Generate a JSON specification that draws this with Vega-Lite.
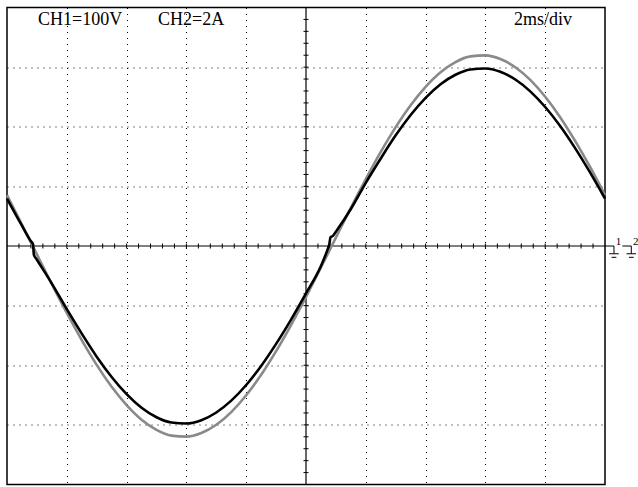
{
  "$schema": "https://vega.github.io/schema/vega-lite/v6.json",
  "width": 598,
  "height": 477,
  "autosize": {"type": "none"},
  "padding": {"left": 7, "top": 7.5, "right": 33, "bottom": 2.5},
  "background": "white",
  "config": {"view": {"stroke": "#000000", "strokeWidth": 1.5}},
  "datasets": {
    "traces": [
      {"t": 0, "v": 0.854, "ch": "CH1"}, {"t": 0.25, "v": 0.361, "ch": "CH1"}, {"t": 0.5, "v": -0.141, "ch": "CH1"}, {"t": 0.75, "v": -0.639, "ch": "CH1"},
      {"t": 1.0, "v": -1.122, "ch": "CH1"}, {"t": 1.25, "v": -1.577, "ch": "CH1"}, {"t": 1.5, "v": -1.993, "ch": "CH1"}, {"t": 1.75, "v": -2.36, "ch": "CH1"},
      {"t": 2.0, "v": -2.668, "ch": "CH1"}, {"t": 2.25, "v": -2.913, "ch": "CH1"}, {"t": 2.5, "v": -3.084, "ch": "CH1"}, {"t": 2.75, "v": -3.18, "ch": "CH1"},
      {"t": 3.0, "v": -3.197, "ch": "CH1"}, {"t": 3.25, "v": -3.136, "ch": "CH1"}, {"t": 3.5, "v": -2.998, "ch": "CH1"}, {"t": 3.75, "v": -2.785, "ch": "CH1"},
      {"t": 4.0, "v": -2.503, "ch": "CH1"}, {"t": 4.25, "v": -2.161, "ch": "CH1"}, {"t": 4.5, "v": -1.763, "ch": "CH1"}, {"t": 4.75, "v": -1.325, "ch": "CH1"},
      {"t": 5.0, "v": -0.854, "ch": "CH1"}, {"t": 5.25, "v": -0.361, "ch": "CH1"}, {"t": 5.5, "v": 0.141, "ch": "CH1"}, {"t": 5.75, "v": 0.639, "ch": "CH1"},
      {"t": 6.0, "v": 1.122, "ch": "CH1"}, {"t": 6.25, "v": 1.577, "ch": "CH1"}, {"t": 6.5, "v": 1.993, "ch": "CH1"}, {"t": 6.75, "v": 2.36, "ch": "CH1"},
      {"t": 7.0, "v": 2.668, "ch": "CH1"}, {"t": 7.25, "v": 2.913, "ch": "CH1"}, {"t": 7.5, "v": 3.084, "ch": "CH1"}, {"t": 7.75, "v": 3.18, "ch": "CH1"},
      {"t": 8.0, "v": 3.197, "ch": "CH1"}, {"t": 8.25, "v": 3.136, "ch": "CH1"}, {"t": 8.5, "v": 2.998, "ch": "CH1"}, {"t": 8.75, "v": 2.785, "ch": "CH1"},
      {"t": 9.0, "v": 2.503, "ch": "CH1"}, {"t": 9.25, "v": 2.161, "ch": "CH1"}, {"t": 9.5, "v": 1.763, "ch": "CH1"}, {"t": 9.75, "v": 1.325, "ch": "CH1"},
      {"t": 10.0, "v": 0.854, "ch": "CH1"},
      {"t": 0, "v": 0.795, "ch": "CH2"}, {"t": 0.25, "v": 0.34, "ch": "CH2"}, {"t": 0.4, "v": 0.08, "ch": "CH2"}, {"t": 0.435, "v": 0.03, "ch": "CH2"},
      {"t": 0.45, "v": -0.15, "ch": "CH2"}, {"t": 0.5, "v": -0.23, "ch": "CH2"}, {"t": 0.75, "v": -0.63, "ch": "CH2"},
      {"t": 1.0, "v": -1.06, "ch": "CH2"}, {"t": 1.25, "v": -1.47, "ch": "CH2"}, {"t": 1.5, "v": -1.856, "ch": "CH2"}, {"t": 1.75, "v": -2.197, "ch": "CH2"},
      {"t": 2.0, "v": -2.485, "ch": "CH2"}, {"t": 2.25, "v": -2.713, "ch": "CH2"}, {"t": 2.5, "v": -2.872, "ch": "CH2"}, {"t": 2.75, "v": -2.961, "ch": "CH2"},
      {"t": 3.0, "v": -2.977, "ch": "CH2"}, {"t": 3.25, "v": -2.921, "ch": "CH2"}, {"t": 3.5, "v": -2.792, "ch": "CH2"}, {"t": 3.75, "v": -2.594, "ch": "CH2"},
      {"t": 4.0, "v": -2.331, "ch": "CH2"}, {"t": 4.25, "v": -2.012, "ch": "CH2"}, {"t": 4.5, "v": -1.642, "ch": "CH2"}, {"t": 4.75, "v": -1.234, "ch": "CH2"},
      {"t": 5.0, "v": -0.795, "ch": "CH2"}, {"t": 5.25, "v": -0.336, "ch": "CH2"}, {"t": 5.36, "v": -0.06, "ch": "CH2"}, {"t": 5.39, "v": 0.03, "ch": "CH2"},
      {"t": 5.41, "v": 0.15, "ch": "CH2"}, {"t": 5.45, "v": 0.17, "ch": "CH2"}, {"t": 5.5, "v": 0.24, "ch": "CH2"}, {"t": 5.75, "v": 0.62, "ch": "CH2"},
      {"t": 6.0, "v": 1.06, "ch": "CH2"}, {"t": 6.25, "v": 1.468, "ch": "CH2"}, {"t": 6.5, "v": 1.856, "ch": "CH2"}, {"t": 6.75, "v": 2.197, "ch": "CH2"},
      {"t": 7.0, "v": 2.485, "ch": "CH2"}, {"t": 7.25, "v": 2.713, "ch": "CH2"}, {"t": 7.5, "v": 2.872, "ch": "CH2"}, {"t": 7.75, "v": 2.961, "ch": "CH2"},
      {"t": 8.0, "v": 2.977, "ch": "CH2"}, {"t": 8.25, "v": 2.921, "ch": "CH2"}, {"t": 8.5, "v": 2.792, "ch": "CH2"}, {"t": 8.75, "v": 2.594, "ch": "CH2"},
      {"t": 9.0, "v": 2.331, "ch": "CH2"}, {"t": 9.25, "v": 2.012, "ch": "CH2"}, {"t": 9.5, "v": 1.642, "ch": "CH2"}, {"t": 9.75, "v": 1.234, "ch": "CH2"},
      {"t": 10.0, "v": 0.795, "ch": "CH2"}
    ],
    "xticks": [
      {"t": 0.2}, {"t": 0.4}, {"t": 0.6}, {"t": 0.8}, {"t": 1.0}, {"t": 1.2}, {"t": 1.4}, {"t": 1.6}, {"t": 1.8}, {"t": 2.0},
      {"t": 2.2}, {"t": 2.4}, {"t": 2.6}, {"t": 2.8}, {"t": 3.0}, {"t": 3.2}, {"t": 3.4}, {"t": 3.6}, {"t": 3.8}, {"t": 4.0},
      {"t": 4.2}, {"t": 4.4}, {"t": 4.6}, {"t": 4.8}, {"t": 5.2}, {"t": 5.4}, {"t": 5.6}, {"t": 5.8}, {"t": 6.0},
      {"t": 6.2}, {"t": 6.4}, {"t": 6.6}, {"t": 6.8}, {"t": 7.0}, {"t": 7.2}, {"t": 7.4}, {"t": 7.6}, {"t": 7.8}, {"t": 8.0},
      {"t": 8.2}, {"t": 8.4}, {"t": 8.6}, {"t": 8.8}, {"t": 9.0}, {"t": 9.2}, {"t": 9.4}, {"t": 9.6}, {"t": 9.8}
    ],
    "yticks": [
      {"v": -3.8}, {"v": -3.6}, {"v": -3.4}, {"v": -3.2}, {"v": -3.0}, {"v": -2.8}, {"v": -2.6}, {"v": -2.4}, {"v": -2.2}, {"v": -2.0},
      {"v": -1.8}, {"v": -1.6}, {"v": -1.4}, {"v": -1.2}, {"v": -1.0}, {"v": -0.8}, {"v": -0.6}, {"v": -0.4}, {"v": -0.2},
      {"v": 0.2}, {"v": 0.4}, {"v": 0.6}, {"v": 0.8}, {"v": 1.0}, {"v": 1.2}, {"v": 1.4}, {"v": 1.6}, {"v": 1.8}, {"v": 2.0},
      {"v": 2.2}, {"v": 2.4}, {"v": 2.6}, {"v": 2.8}, {"v": 3.0}, {"v": 3.2}, {"v": 3.4}, {"v": 3.6}, {"v": 3.8}
    ],
    "labels": [
      {"t": 0.52, "v": 3.7, "text": "CH1=100V"},
      {"t": 2.525, "v": 3.7, "text": "CH2=2A"},
      {"t": 8.48, "v": 3.7, "text": "2ms/div"}
    ],
    "gnd": [
      {"t": 10.0, "t2": 10.15, "v": 0.0, "v2": 0.0},
      {"t": 10.15, "t2": 10.15, "v": 0.0, "v2": -0.13},
      {"t": 10.07, "t2": 10.23, "v": -0.13, "v2": -0.13},
      {"t": 10.11, "t2": 10.19, "v": -0.19, "v2": -0.19},
      {"t": 10.29, "t2": 10.44, "v": 0.0, "v2": 0.0},
      {"t": 10.44, "t2": 10.44, "v": 0.0, "v2": -0.13},
      {"t": 10.36, "t2": 10.52, "v": -0.13, "v2": -0.13},
      {"t": 10.40, "t2": 10.48, "v": -0.19, "v2": -0.19}
    ],
    "gndlabels": [
      {"t": 10.18, "v": 0.02, "text": "1"},
      {"t": 10.47, "v": 0.02, "text": "2"}
    ]
  },
  "layer": [
    {
      "data": {"name": "labels"},
      "mark": {"type": "text", "font": "Liberation Serif", "fontSize": 18, "align": "left", "baseline": "alphabetic", "color": "#000000"},
      "encoding": {
        "x": {"field": "t", "type": "quantitative", "scale": {"domain": [0, 10], "nice": false, "zero": false},
          "axis": {"values": [1, 2, 3, 4, 6, 7, 8, 9], "grid": true, "gridDash": [1, 5], "gridColor": "#000000", "gridWidth": 1, "gridOpacity": 1, "domain": false, "ticks": false, "labels": false, "title": null}},
        "y": {"field": "v", "type": "quantitative", "scale": {"domain": [-4, 4], "nice": false, "zero": false},
          "axis": {"values": [-3, -2, -1, 1, 2, 3], "grid": true, "gridDash": [1, 5], "gridColor": "#000000", "gridWidth": 1, "gridOpacity": 1, "domain": false, "ticks": false, "labels": false, "title": null}},
        "text": {"field": "text"}
      }
    },
    {
      "data": {"values": [{"c": 5}]},
      "mark": {"type": "rule", "color": "#000000", "strokeWidth": 1.2},
      "encoding": {"x": {"field": "c", "type": "quantitative"}}
    },
    {
      "data": {"values": [{"c": 0}]},
      "mark": {"type": "rule", "color": "#000000", "strokeWidth": 1.2},
      "encoding": {"y": {"field": "c", "type": "quantitative"}}
    },
    {
      "data": {"name": "xticks"},
      "mark": {"type": "tick", "orient": "vertical", "size": 5, "thickness": 1, "color": "#000000", "opacity": 1},
      "encoding": {"x": {"field": "t", "type": "quantitative"}, "y": {"datum": 0, "type": "quantitative"}}
    },
    {
      "data": {"name": "yticks"},
      "mark": {"type": "tick", "orient": "horizontal", "size": 5, "thickness": 1, "color": "#000000", "opacity": 1},
      "encoding": {"y": {"field": "v", "type": "quantitative"}, "x": {"datum": 5, "type": "quantitative"}}
    },
    {
      "data": {"name": "traces"},
      "transform": [{"filter": "datum.ch === 'CH1'"}],
      "mark": {"type": "line", "color": "#8a8a8a", "strokeWidth": 2.6, "interpolate": "monotone"},
      "encoding": {"x": {"field": "t", "type": "quantitative"}, "y": {"field": "v", "type": "quantitative"}}
    },
    {
      "data": {"name": "traces"},
      "transform": [{"filter": "datum.ch === 'CH2'"}],
      "mark": {"type": "line", "color": "#000000", "strokeWidth": 2.6, "interpolate": "monotone"},
      "encoding": {"x": {"field": "t", "type": "quantitative"}, "y": {"field": "v", "type": "quantitative"}}
    },
    {
      "data": {"name": "gnd"},
      "mark": {"type": "rule", "color": "#000000", "strokeWidth": 1},
      "encoding": {
        "x": {"field": "t", "type": "quantitative"}, "x2": {"field": "t2"},
        "y": {"field": "v", "type": "quantitative"}, "y2": {"field": "v2"}
      }
    },
    {
      "data": {"name": "gndlabels"},
      "mark": {"type": "text", "font": "Liberation Serif", "fontSize": 11, "align": "left", "baseline": "alphabetic", "color": "#000000"},
      "encoding": {"x": {"field": "t", "type": "quantitative"}, "y": {"field": "v", "type": "quantitative"}, "text": {"field": "text"}}
    }
  ]
}
